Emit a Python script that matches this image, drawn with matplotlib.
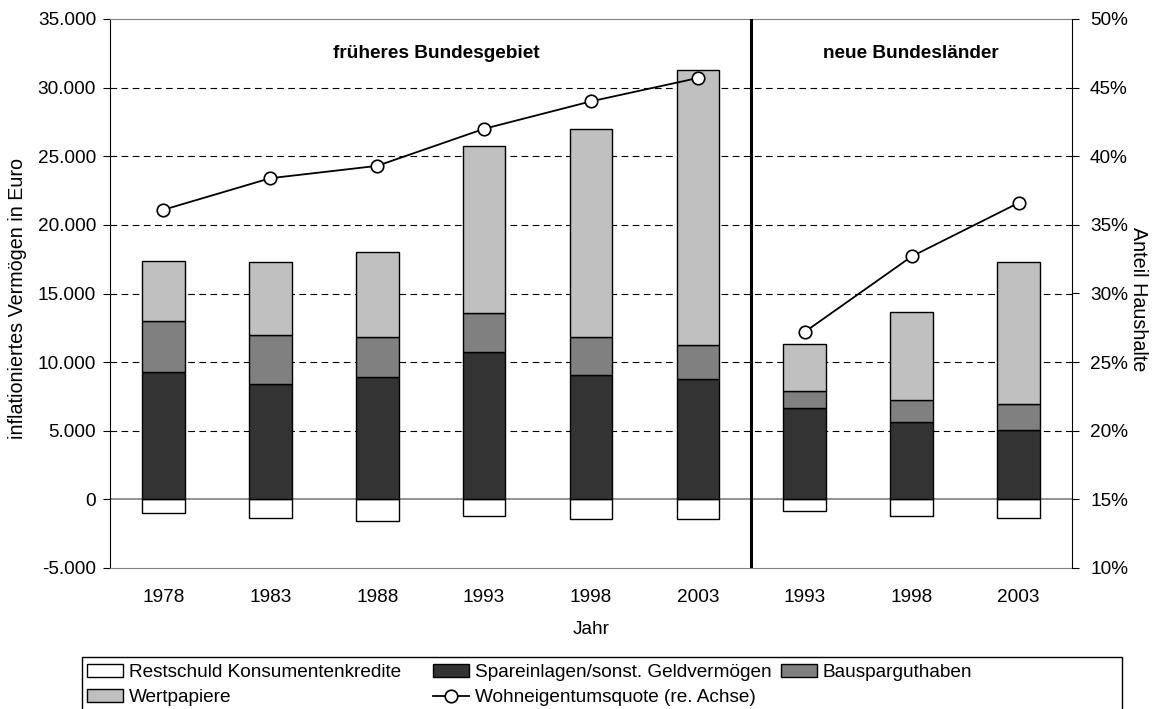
import matplotlib
matplotlib.use("Agg")
import matplotlib.pyplot as plt
from matplotlib.ticker import FuncFormatter, MultipleLocator
from matplotlib.patches import Rectangle

plt.rcParams['font.family'] = ['Liberation Sans', 'DejaVu Sans']

# data
years = ['1978', '1983', '1988', '1993', '1998', '2003', '1993', '1998', '2003']
restschuld = [-970, -1330, -1570, -1190, -1450, -1410, -820, -1190, -1380]
spareinlagen = [9260, 8380, 8940, 10740, 9040, 8750, 6640, 5660, 5060]
bauspar = [3710, 3570, 2920, 2860, 2820, 2520, 1280, 1560, 1870]
wertpapiere = [4410, 5370, 6170, 12170, 15110, 19990, 3400, 6410, 10390]
quote_west = [36.1, 38.4, 39.3, 42.0, 44.0, 45.7]
quote_ost = [27.2, 32.7, 36.6]

FS = 13.7
W, H = 1154, 709
fig = plt.figure(figsize=(W / 100, H / 100), dpi=100)
ax = fig.add_axes([110 / W, 1 - 568 / H, (1072 - 110) / W, (568 - 19) / H])
ax2 = ax.twinx()

x = list(range(len(years)))
bw = 0.40
ekw = dict(edgecolor='black', linewidth=1.0, zorder=3)

b_rest = ax.bar(x, restschuld, bw, color='white', **ekw)
b_spar = ax.bar(x, spareinlagen, bw, color='#333333', **ekw)
b_baus = ax.bar(x, bauspar, bw, bottom=spareinlagen, color='#808080', **ekw)
bottom3 = [s + b for s, b in zip(spareinlagen, bauspar)]
b_wert = ax.bar(x, wertpapiere, bw, bottom=bottom3, color='#c0c0c0', **ekw)

ax.set_xlim(-0.5, len(years) - 0.5)
ax.set_ylim(-5000, 35000)
ax.yaxis.set_major_locator(MultipleLocator(5000))
ax.yaxis.set_major_formatter(FuncFormatter(lambda v, p: f"{int(v):,}".replace(',', '.')))
ax.set_xticks(x)
ax.set_xticklabels(years)

ax.grid(axis='y', color='black', linestyle=(0, (6, 4)), linewidth=0.8, zorder=1)
ax.set_axisbelow(True)
for t, gl in zip(ax.get_yticks(), ax.get_ygridlines()):
    if t in (-5000, 0, 35000):
        gl.set_visible(False)
ax.axhline(0, color='#808080', linewidth=1.2, zorder=2)
ax.axvline(5.5, color='black', linewidth=2.2, zorder=4)

ax.tick_params(axis='y', labelsize=FS, length=5, pad=5, color='black')
ax.tick_params(axis='x', labelsize=FS, length=0, pad=15)
ax.spines['top'].set_color('#808080')
ax.spines['bottom'].set_color('#808080')
ax.spines['left'].set_color('black')
ax.spines['right'].set_visible(False)

ax.set_ylabel('inflationiertes Vermögen in Euro', fontsize=14.2)
ax.yaxis.set_label_coords(-0.0863, 0.49)
ax.set_xlabel('Jahr', fontsize=FS)
ax.xaxis.set_label_coords(0.5, -0.0965)

# line on secondary axis
lkw = dict(color='black', linewidth=1.3, marker='o', markersize=9,
           markerfacecolor='white', markeredgecolor='black', markeredgewidth=1.2, zorder=5)
ln, = ax2.plot(x[:6], quote_west, **lkw)
ax2.plot(x[6:], quote_ost, **lkw)
ax2.set_ylim(10, 50)
ax2.yaxis.set_major_locator(MultipleLocator(5))
ax2.yaxis.set_major_formatter(FuncFormatter(lambda v, p: f"{int(round(v))}%"))
ax2.tick_params(axis='y', labelsize=FS, length=5, pad=8)
for s in ('top', 'bottom', 'left'):
    ax2.spines[s].set_visible(False)
ax2.spines['right'].set_color('black')
ax2.set_ylabel('Anteil Haushalte', fontsize=14.2, rotation=270)
ax2.yaxis.set_label_coords(1.079, 0.49)

ax.text(0.339, 0.938, 'früheres Bundesgebiet', transform=ax.transAxes,
        ha='center', va='center', fontsize=FS, fontweight='bold')
ax.text(0.832, 0.938, 'neue Bundesländer', transform=ax.transAxes,
        ha='center', va='center', fontsize=FS, fontweight='bold')

# legend: three columns placed like the original, plus one frame
cols = [
    ([b_rest, b_wert], ['Restschuld Konsumentenkredite', 'Wertpapiere'], 87),
    ([b_spar, ln], ['Spareinlagen/sonst. Geldvermögen', 'Wohneigentumsquote (re. Achse)'], 433),
    ([b_baus], ['Bausparguthaben'], 781),
]
for handles, labels, xpx in cols:
    fig.legend(handles, labels, loc='upper left',
               bbox_to_anchor=(xpx / W, 1 - 664 / H),
               frameon=False, fontsize=FS, borderpad=0, borderaxespad=0,
               handlelength=1.9, handletextpad=0.3, labelspacing=0.4)
fig.patches.append(Rectangle((82 / W, 1 - 712 / H), 1040 / W, 55 / H,
                             transform=fig.transFigure, fill=False,
                             edgecolor='black', linewidth=1.0))

fig.savefig('out.png', dpi=100)
